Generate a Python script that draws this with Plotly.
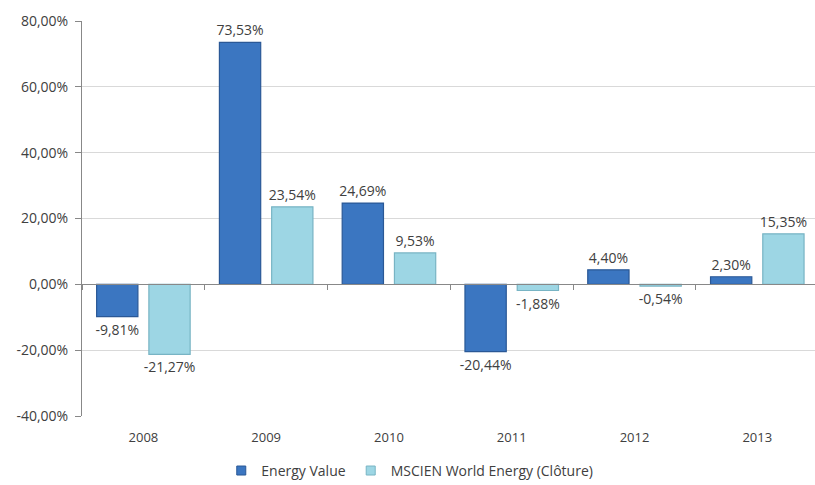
import plotly.graph_objects as go

years = ["2008", "2009", "2010", "2011", "2012", "2013"]
energy_value = [-9.81, 73.53, 24.69, -20.44, 4.40, 2.30]
msci_energy = [-21.27, 23.54, 9.53, -1.88, -0.54, 15.35]
y_ticks = [-40, -20, 0, 20, 40, 60, 80]
series_names = ["Energy Value", "MSCIEN World Energy (Clôture)"]

def fmt(v):
    return f"{v:.2f}".replace(".", ",") + "%"

FONT = "Open Sans"
TXT = "#404040"
C1, L1 = "#3b76c1", "#2a5896"
C2, L2 = "#9dd6e4", "#78b4c4"
XRANGE = [-0.5, 5.47]

fig = go.Figure()
for vals, name, c, l in [(energy_value, series_names[0], C1, L1),
                         (msci_energy, series_names[1], C2, L2)]:
    fig.add_trace(go.Bar(
        x=years, y=vals, name=name, showlegend=False,
        marker=dict(color=c, line=dict(color=l, width=1.2)),
        text=[fmt(v) for v in vals], textposition="outside", constraintext="none",
        textfont=dict(family=FONT, size=14, color=TXT), cliponaxis=False,
    ))
# legend entries with small square markers
for name, c, l in [(series_names[0], C1, L1), (series_names[1], C2, L2)]:
    fig.add_trace(go.Scatter(x=[None], y=[None], mode="markers", name=name,
                             marker=dict(symbol="square", size=9, color=c,
                                         line=dict(color=l, width=1))))
# invisible trace to carry the zero-crossing category axis
fig.add_trace(go.Scatter(x=years, y=[0]*len(years), xaxis="x2", mode="markers",
                         marker=dict(opacity=0), showlegend=False, hoverinfo="skip"))

fig.update_layout(
    width=815, height=485,
    margin=dict(l=82, r=0, t=21, b=69),
    paper_bgcolor="white", plot_bgcolor="white",
    barmode="group", bargap=0.149, bargroupgap=0.21,
    font=dict(family=FONT, size=13, color=TXT),
    showlegend=True,
    legend=dict(orientation="h", x=0.19, xanchor="left", yref="container",
                y=0.062, yanchor="top",
                font=dict(family=FONT, size=14, color=TXT), itemwidth=30,
                traceorder="normal", tracegroupgap=0),
    xaxis=dict(range=XRANGE, showline=False, ticks="", showgrid=False, zeroline=False,
               automargin=False, ticklabelstandoff=12,
               tickfont=dict(family=FONT, size=13, color=TXT)),
    xaxis2=dict(overlaying="x", matches="x", anchor="free", position=1/3,
                showline=True, linecolor="#888888", linewidth=1,
                ticks="outside", tickson="boundaries", ticklen=5, tickcolor="#888888",
                showticklabels=False, showgrid=False, zeroline=False),
    yaxis=dict(range=[-40, 80], tickvals=y_ticks, ticktext=[fmt(v) for v in y_ticks],
               showgrid=True, gridcolor="#d9d9d9", gridwidth=1, automargin=False,
               showline=True, linecolor="#888888", linewidth=1,
               ticks="outside", ticklen=6, tickcolor="#888888", ticklabelstandoff=4,
               zeroline=False, tickfont=dict(family=FONT, size=14, color=TXT)),
)

fig.write_html("out.html", config={"displayModeBar": False},
               post_script="document.body.style.margin='0';document.body.style.overflow='hidden';")
